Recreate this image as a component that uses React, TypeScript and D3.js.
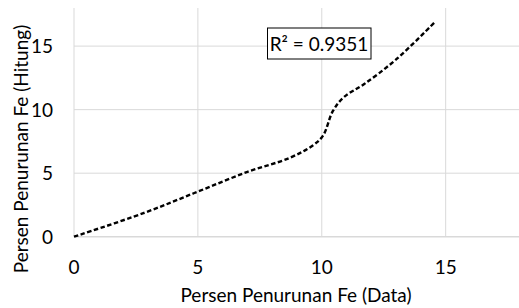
import React, { useEffect, useRef } from "react";
import * as d3 from "d3";

// values
const dataX = [0, 2.8, 5, 7, 8.7, 9.65, 10.05, 10.45, 10.9, 11.7, 13, 14.56];
const dataY = [0, 1.85, 3.55, 5.1, 6.2, 7.2, 7.95, 9.9, 11.0, 12.0, 13.95, 16.88];
const xTicks = [0, 5, 10, 15];
const yTicks = [0, 5, 10, 15];
const rSquared = "R² = 0.9351";

export default function App() {
  const ref = useRef<SVGSVGElement>(null);

  useEffect(() => {
    const svg = d3.select(ref.current);
    svg.selectAll("*").remove();

    const font = "Lato, 'Open Sans', sans-serif";
    const fs = 19;
    const x = d3.scaleLinear().domain([0, 18]).range([74, 520]);
    const y = d3.scaleLinear().domain([0, 18]).range([236.7, 8]);

    // grid
    svg.append("g")
      .selectAll("line.v")
      .data(xTicks)
      .join("line")
      .attr("x1", d => x(d)).attr("x2", d => x(d))
      .attr("y1", y(0)).attr("y2", y(18))
      .attr("stroke", "#d9d9d9").attr("stroke-width", 1);
    svg.append("g")
      .selectAll("line.h")
      .data(yTicks)
      .join("line")
      .attr("x1", x(0)).attr("x2", x(18))
      .attr("y1", d => y(d)).attr("y2", d => y(d))
      .attr("stroke", "#d9d9d9").attr("stroke-width", d => (d === 0 ? 1.5 : 1));

    // tick labels
    svg.append("g")
      .selectAll("text")
      .data(xTicks)
      .join("text")
      .attr("x", d => x(d)).attr("y", 273.5)
      .attr("text-anchor", "middle")
      .attr("font-family", font).attr("font-size", fs).attr("fill", "#000")
      .text(d => d);
    svg.append("g")
      .selectAll("text")
      .data(yTicks)
      .join("text")
      .attr("x", 53).attr("y", d => y(d) + 7)
      .attr("text-anchor", "end")
      .attr("font-family", font).attr("font-size", fs).attr("fill", "#000")
      .text(d => d);

    // axis titles
    svg.append("text")
      .attr("x", 296).attr("y", 302)
      .attr("text-anchor", "middle")
      .attr("font-family", font).attr("font-size", fs).attr("fill", "#000")
      .text("Persen Penurunan Fe (Data)");
    svg.append("text")
      .attr("transform", "translate(28,149) rotate(-90)")
      .attr("text-anchor", "middle")
      .attr("font-family", font).attr("font-size", fs).attr("fill", "#000")
      .text("Persen Penurunan Fe (Hitung)");

    // line
    const pts = dataX.map((d, i) => [d, dataY[i]] as [number, number]);
    svg.append("path")
      .datum(pts)
      .attr("fill", "none")
      .attr("stroke", "#000")
      .attr("stroke-width", 2.4)
      .attr("stroke-dasharray", "4.5,2.5")
      .attr("d", d3.line<[number, number]>()
        .x(d => x(d[0]))
        .y(d => y(d[1]))
        .curve(d3.curveCatmullRom.alpha(0.5)));

    // R² label
    const g = svg.append("g");
    g.append("rect")
      .attr("x", 267.5).attr("y", 28)
      .attr("width", 103.5).attr("height", 31)
      .attr("fill", "#fff").attr("stroke", "#000").attr("stroke-width", 1);
    g.append("text")
      .attr("x", 319).attr("y", 50.5)
      .attr("text-anchor", "middle")
      .attr("font-family", font).attr("font-size", fs).attr("fill", "#000")
      .text(rSquared);
  }, []);

  return (
    <svg ref={ref} width={519} height={308}
      style={{ position: "absolute", left: 0, top: 0, background: "#fff" }} />
  );
}
